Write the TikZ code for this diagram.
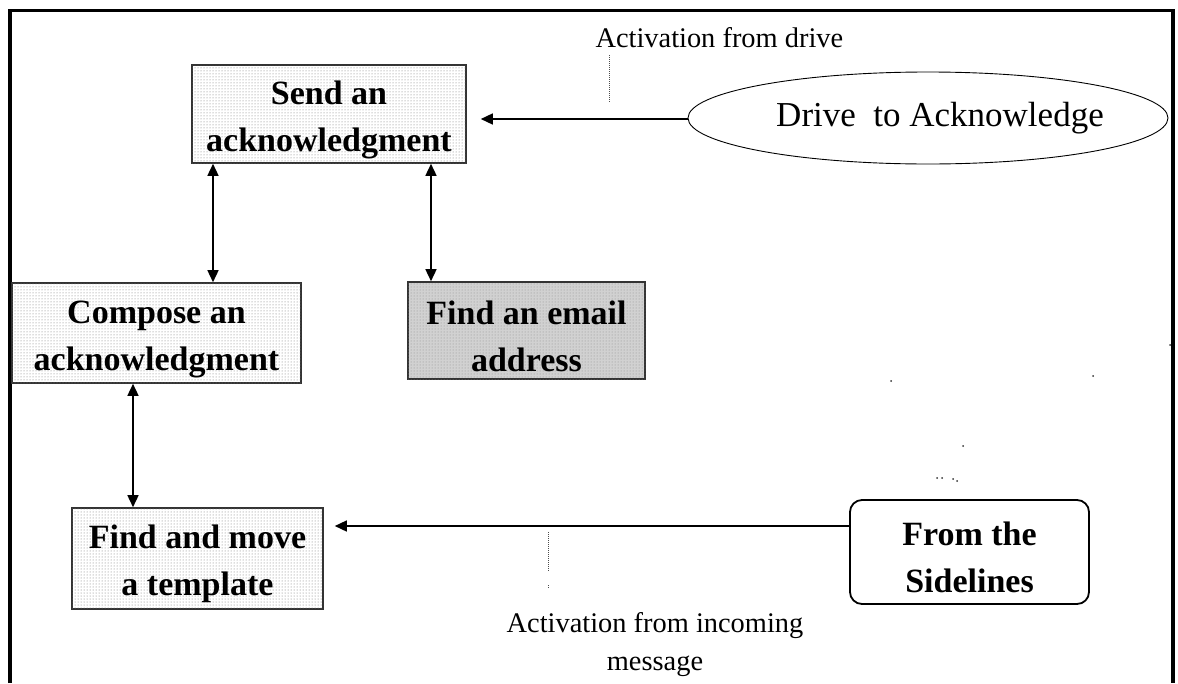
\documentclass[tikz,border=0pt]{standalone}
\usepackage{fontspec}
\setmainfont{Liberation Serif}
\usetikzlibrary{arrows.meta,shapes.geometric,patterns}
\newcommand\upstrut{\rule{0pt}{35pt}}
\begin{document}
\begin{tikzpicture}[x=1pt,y=-1pt,
  boxfont/.style={font=\bfseries\fontsize{34}{47}\selectfont},
  labfont/.style={font=\fontsize{28.4}{38}\selectfont},
  actbox/.style={draw=black!80, line width=1.6pt, fill=white,
    postaction={pattern=dots, pattern color=black!55},
    inner sep=0pt, align=center, boxfont},
  darkbox/.style={draw=black!80, line width=1.6pt, fill=black!18,
    postaction={pattern=dots, pattern color=black!45},
    inner sep=0pt, align=center, boxfont},
  srcbox/.style={draw=black, line width=1.8pt, rounded corners=12pt,
    inner sep=0pt, align=center, boxfont},
  drivebox/.style={ellipse, draw=black, line width=0.9pt, inner sep=0pt},
  drivefont/.style={font=\fontsize{35}{40}\selectfont},
  conn/.style={line width=1.5pt, -{Triangle[length=12pt,width=11pt]}},
  dblconn/.style={line width=1.5pt,
    {Triangle[length=12pt,width=11pt]}-{Triangle[length=12pt,width=11pt]}},
  dotline/.style={line width=1pt, dash pattern=on 1pt off 1pt, black!70},
  speck/.style={fill=black!80}
]
\useasboundingbox (0,0) rectangle (1178,683);
% frame
\draw[line width=3.2pt, line join=miter] (10,683) -- (10,10.8) -- (1173,10.8) -- (1173,683);

% nodes
\node[actbox, minimum width=274pt, minimum height=98pt] (send) at (329,114)
  {\upstrut Send an\\acknowledgment};
\node[actbox, minimum width=289pt, minimum height=100pt] (compose) at (156.5,333)
  {\upstrut Compose an\\acknowledgment};
\node[darkbox, minimum width=237pt, minimum height=97pt] (email) at (526.5,330.5)
  {\upstrut Find an email\\address};
\node[actbox, minimum width=251pt, minimum height=101pt] (tmpl) at (197.5,558.5)
  {\upstrut Find and move\\a template};
\node[srcbox, minimum width=239pt, minimum height=104pt] (side) at (969.5,552)
  {\upstrut From the\\Sidelines};
\node[drivebox, minimum width=480pt, minimum height=92pt] (drive) at (928,118) {};
\node[drivefont] (drivetext) at (940,118) {Drive\ \ to Acknowledge};

% labels
\node[labfont, anchor=base west] (lab1) at (592,47) {Activation from drive};
\node[labfont, anchor=base, align=center] (lab2) at (655,670)
  {Activation from incoming\\message};

% connector helper coordinates
\coordinate (xa) at (213,0);
\coordinate (xb) at (431,0);
\coordinate (xc) at (133,0);
\coordinate (ya) at (0,119);
\coordinate (yb) at (0,526);

% connectors
\draw[conn, shorten >=14pt] (drive.west |- ya) -- (send.east |- ya);
\draw[dblconn] (send.south -| xa) -- (compose.north -| xa);
\draw[dblconn] (send.south -| xb) -- (email.north -| xb);
\draw[dblconn] (compose.south -| xc) -- (tmpl.north -| xc);
\draw[conn, shorten >=11pt] (side.west |- yb) -- (tmpl.east |- yb);

% dotted leader lines
\coordinate (d1a) at (609,55);
\coordinate (d1b) at (609,103);
\coordinate (d2a) at (548,532);
\coordinate (d2b) at (548,572);
\coordinate (d2c) at (548,585);
\coordinate (d2d) at (548,588);
\draw[dotline] (d1a) -- (d1b);
\draw[dotline] (d2a) -- (d2b);
\draw[dotline] (d2c) -- (d2d);

% stray specks
\foreach \p in {(891,381),(1093,376),(963,446),(937,478),(942,478),(953,479),(957,481),(1170,345)}
  \fill[speck] \p circle (1pt);
\end{tikzpicture}
\end{document}
